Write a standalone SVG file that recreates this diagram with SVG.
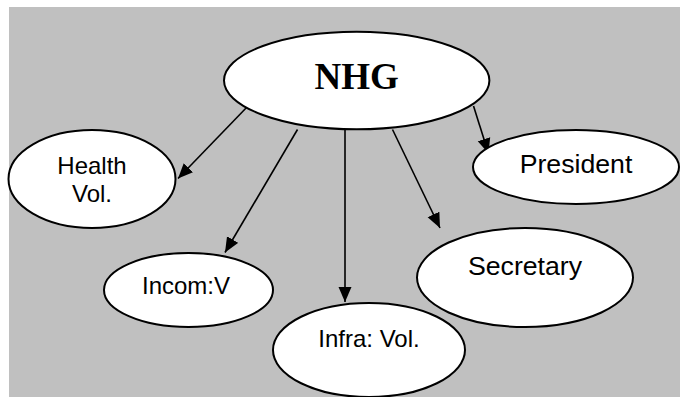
<svg xmlns="http://www.w3.org/2000/svg" width="680" height="397" viewBox="0 0 680 397">
<style>
.node ellipse{fill:#fff;stroke:#000;stroke-width:2}
.lbl{font-family:"Liberation Sans",Arial,sans-serif;font-size:24px;fill:#000;text-anchor:middle}
.big{font-size:26.7px}
.title{font-family:"Liberation Serif","Times New Roman",serif;font-weight:bold;font-size:37px;fill:#000;text-anchor:middle}
#edges line{stroke:#000;stroke-width:1.6;marker-end:url(#ah)}
</style>
<defs>
<marker id="ah" markerUnits="userSpaceOnUse" markerWidth="16" markerHeight="14" refX="15" refY="6.5" orient="auto" viewBox="0 0 16 13">
<path d="M0,0 L15,6.5 L0,13 Z" fill="#000"/>
</marker>
</defs>
<rect x="9" y="7" width="671" height="390" fill="#c0c0c0"/>
<g id="edges">
<line x1="248.5" y1="105.5" x2="178" y2="178.5"/>
<line x1="297.5" y1="129.5" x2="225" y2="252.5"/>
<line x1="345" y1="129" x2="345" y2="302"/>
<line x1="392.5" y1="129.5" x2="440" y2="228"/>
<line x1="473.5" y1="106" x2="488.5" y2="153.5"/>
</g>
<g id="nhg" class="node">
<ellipse cx="356.7" cy="80.5" rx="132.7" ry="48.8"/>
<text class="title" x="356.7" y="89.3">NHG</text>
</g>
<g id="health" class="node">
<ellipse cx="92" cy="179" rx="83.5" ry="49"/>
<text class="lbl" x="92" y="174">Health</text>
<text class="lbl" x="92" y="201.5">Vol.</text>
</g>
<g id="president" class="node">
<ellipse cx="576" cy="167" rx="103" ry="37"/>
<text class="lbl big" x="576" y="172.5">President</text>
</g>
<g id="incom" class="node">
<ellipse cx="188.5" cy="290" rx="84.5" ry="37"/>
<text class="lbl" x="186" y="294">Incom:V</text>
</g>
<g id="secretary" class="node">
<ellipse cx="525" cy="277.5" rx="108" ry="49.5"/>
<text class="lbl big" x="525" y="275">Secretary</text>
</g>
<g id="infra" class="node">
<ellipse cx="369" cy="350" rx="96" ry="47"/>
<text class="lbl" x="369" y="347">Infra: Vol.</text>
</g>
</svg>
